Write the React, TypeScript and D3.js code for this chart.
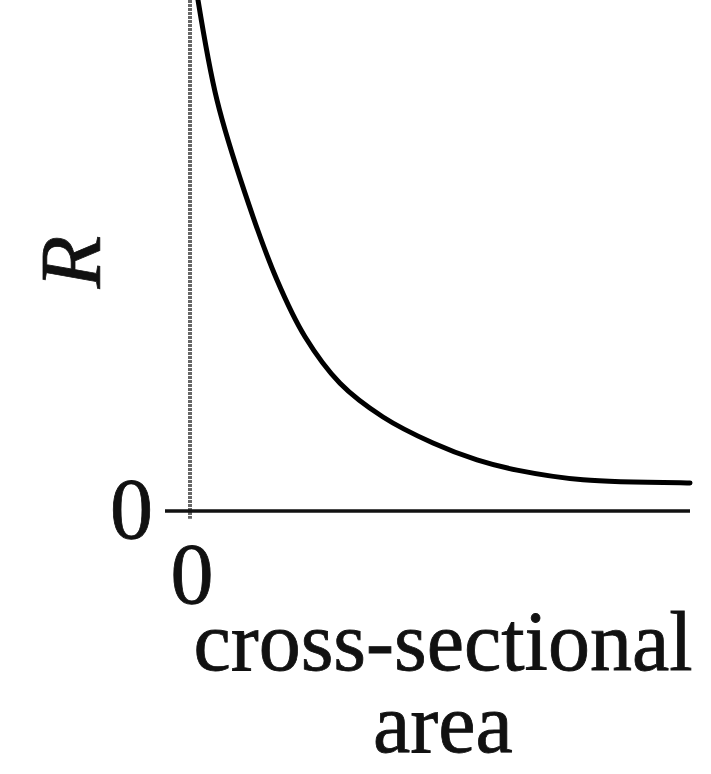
import { useEffect, useRef } from 'react'
import * as d3 from 'd3'

// values (arbitrary units)
const area = [0.16, 0.54, 1.1, 1.74, 2.3, 3.0, 3.86, 4.86, 5.74, 6.54, 7.86, 9.94, 10]
const resistance = [10, 8.04, 6.22, 4.52, 3.41, 2.5, 1.84, 1.33, 1.0, 0.8, 0.61, 0.55, 0.55]
const xTicks = [0]
const yTicks = [0]
const xLabelLines = ['cross-sectional', 'area']
const yLabel = 'R'

const W = 711
const H = 774
const FONT = '"Liberation Serif", "Times New Roman", serif'

export default function App() {
  const svgRef = useRef<SVGSVGElement>(null)

  useEffect(() => {
    if (!svgRef.current) return
    const svg = d3.select(svgRef.current)
    svg.selectAll('*').remove()

    const x = d3.scaleLinear().domain([0, 10]).range([190, 690])
    const y = d3.scaleLinear().domain([0, 10]).range([511, 0])

    // y axis (dotted, grey)
    svg.append('line')
      .attr('x1', x(0)).attr('x2', x(0))
      .attr('y1', y(10)).attr('y2', y(-0.15))
      .attr('stroke', '#666').attr('stroke-width', 4)
      .attr('stroke-dasharray', '3,1')

    // x axis
    svg.append('line')
      .attr('x1', x(-0.5)).attr('x2', x(10))
      .attr('y1', y(0)).attr('y2', y(0))
      .attr('stroke', '#111').attr('stroke-width', 3.5)

    // curve
    const pts = area.map((a, i) => [a, resistance[i]] as [number, number])
    const line = d3.line<[number, number]>()
      .x(d => x(d[0]))
      .y(d => y(d[1]))
      .curve(d3.curveCatmullRom.alpha(0.5))
    svg.append('path').datum(pts)
      .attr('fill', 'none')
      .attr('stroke', '#000')
      .attr('stroke-width', 5)
      .attr('stroke-linecap', 'round')
      .attr('d', line)

    const styleText = (sel: d3.Selection<SVGTextElement, any, any, any>, size: number) =>
      sel.attr('font-family', FONT).attr('font-size', size)
        .attr('fill', '#111').attr('stroke', '#111').attr('stroke-width', 0.8)

    // tick labels
    svg.selectAll('.xt').data(xTicks).enter().append('text')
      .attr('x', d => x(d) + 2).attr('y', 603)
      .attr('text-anchor', 'middle')
      .call(s => styleText(s, 86))
      .text(d => String(d))

    svg.selectAll('.yt').data(yTicks).enter().append('text')
      .attr('x', 153).attr('y', d => y(d) + 27)
      .attr('text-anchor', 'end')
      .call(s => styleText(s, 86))
      .text(d => String(d))

    // axis titles
    svg.selectAll('.xl').data(xLabelLines).enter().append('text')
      .attr('x', 443).attr('y', (_, i) => 670 + i * 82)
      .attr('text-anchor', 'middle')
      .call(s => styleText(s, 84))
      .text(d => d)

    svg.append('text')
      .attr('transform', 'translate(100,262) rotate(-90)')
      .attr('text-anchor', 'middle')
      .attr('font-style', 'italic')
      .call(s => styleText(s, 86))
      .text(yLabel)
  }, [])

  return (
    <svg
      ref={svgRef}
      width={W}
      height={H}
      style={{ position: 'absolute', left: 0, top: 0, background: '#fff', display: 'block' }}
    />
  )
}
